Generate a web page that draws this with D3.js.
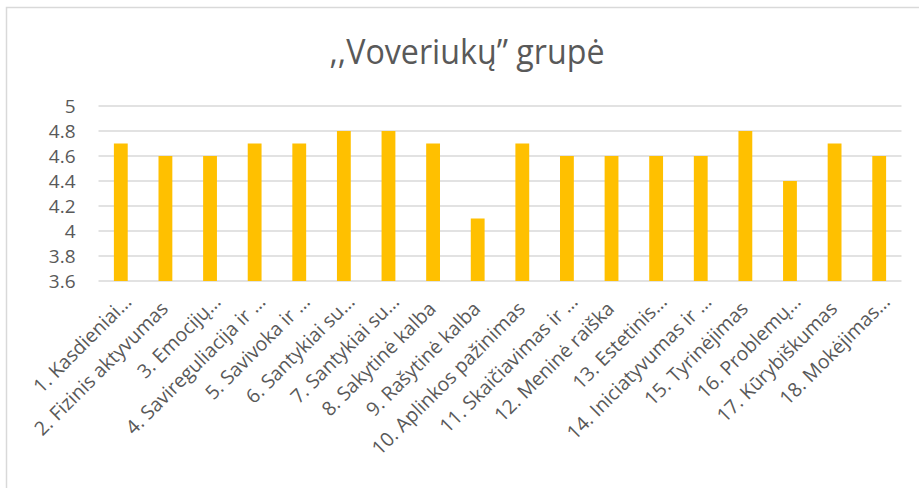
<!DOCTYPE html>
<html>
<head>
<meta charset="utf-8">
<script src="https://cdn.jsdelivr.net/npm/d3@7"></script>
<style>
  body { margin: 0; background: #fff; }
  text { font-family: "Open Sans", sans-serif; fill: #595959; }
</style>
</head>
<body>
<svg id="chart" width="919" height="488"></svg>
<script>
// Bar chart: ,,Voveriukų" grupė

const categories = [
  "1. Kasdieniai…", "2. Fizinis aktyvumas", "3. Emocijų…", "4. Savireguliacija ir …",
  "5. Savivoka ir …", "6. Santykiai su…", "7. Santykiai su…", "8. Sakytinė kalba",
  "9. Rašytinė kalba", "10. Aplinkos pažinimas", "11. Skaičiavimas ir …", "12. Meninė raiška",
  "13. Estetinis…", "14. Iniciatyvumas ir …", "15. Tyrinėjimas", "16. Problemų…",
  "17. Kūrybiškumas", "18. Mokėjimas…"
];
const values = [4.7, 4.6, 4.6, 4.7, 4.7, 4.8, 4.8, 4.7, 4.1, 4.7, 4.6, 4.6, 4.6, 4.6, 4.8, 4.4, 4.7, 4.6];
const yTicks = [3.6, 3.8, 4, 4.2, 4.4, 4.6, 4.8, 5];
const title = ",,Voveriukų” grupė";

const svg = d3.select("#chart");

// chart frame
svg.append("rect")
  .attr("x", 6.5).attr("y", 7.5)
  .attr("width", 930).attr("height", 500)
  .attr("fill", "none")
  .attr("stroke", "#d9d9d9")
  .attr("stroke-width", 1.5);

const plotLeft = 98.5, plotRight = 901.5, plotTop = 106, plotBottom = 281;

const x = d3.scaleBand()
  .domain(categories)
  .range([plotLeft, plotRight])
  .paddingInner(0.69)
  .paddingOuter(0.345);

const y = d3.scaleLinear()
  .domain([3.6, 5])
  .range([plotBottom, plotTop]);

// title
svg.append("text")
  .attr("x", 467).attr("y", 63.5)
  .attr("text-anchor", "middle")
  .attr("font-size", 34)
  .attr("textLength", 275)
  .attr("lengthAdjust", "spacingAndGlyphs")
  .text(title);

// gridlines
svg.append("g")
  .selectAll("line")
  .data(yTicks)
  .join("line")
  .attr("x1", plotLeft).attr("x2", plotRight)
  .attr("y1", d => y(d)).attr("y2", d => y(d))
  .attr("stroke", "#d9d9d9")
  .attr("stroke-width", 1.5);

// y axis labels
const yAxis = d3.axisLeft(y).tickValues(yTicks).tickSize(0).tickPadding(0).tickFormat(d3.format("~g"));
svg.append("g")
  .attr("transform", `translate(${plotLeft - 23},0)`)
  .call(yAxis)
  .call(g => g.select(".domain").remove())
  .call(g => g.selectAll("text")
    .attr("font-size", 19)
    .attr("font-family", "Open Sans, sans-serif")
    .attr("fill", "#595959"));

// bars
svg.append("g")
  .selectAll("rect")
  .data(values)
  .join("rect")
  .attr("x", (d, i) => x(categories[i]))
  .attr("y", d => y(d))
  .attr("width", x.bandwidth())
  .attr("height", d => plotBottom - y(d))
  .attr("fill", "#ffc000");

// x labels, rotated (truncated ones sit a bit further out, like Excel does)
const xAxis = d3.axisBottom(x).tickSize(0).tickPadding(0);
svg.append("g")
  .attr("transform", `translate(0,${plotBottom})`)
  .call(xAxis)
  .call(g => g.select(".domain").remove())
  .call(g => g.selectAll("text")
    .attr("font-size", 19.5)
    .attr("font-family", "Open Sans, sans-serif")
    .attr("fill", "#595959")
    .attr("text-anchor", "end")
    .attr("dy", 0)
    .attr("transform", d => d.endsWith("…")
      ? "translate(12,22) rotate(-45)"
      : "translate(4,29) rotate(-45)"));
</script>
</body>
</html>
